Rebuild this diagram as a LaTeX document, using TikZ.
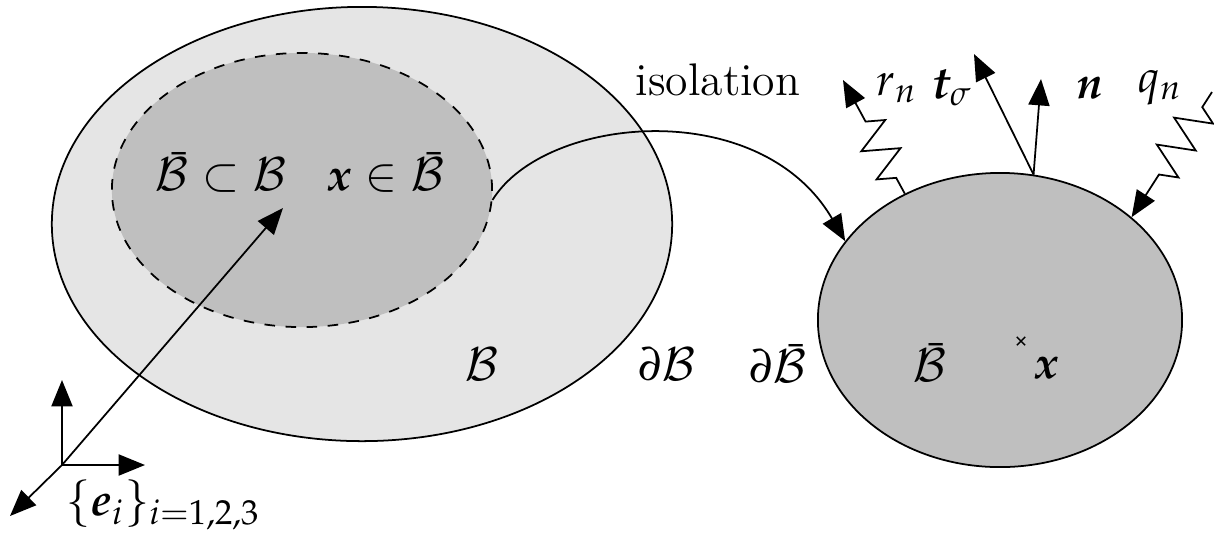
\documentclass[tikz,border=0pt]{standalone}
\usepackage{mathpazo}
\usepackage{bm}
\usetikzlibrary{shapes.geometric, shapes.misc, arrows.meta, decorations.pathmorphing}

\begin{document}
\begin{tikzpicture}[
    x=0.01cm, y=-0.01cm,
    every node/.style={font=\fontsize{13}{15}\selectfont},
    body/.style={ellipse, draw, line width=0.5pt, inner sep=0pt},
    arrow/.style={-{Triangle[length=7.5pt, width=6pt]}, line width=0.5pt},
    flux/.style={arrow, decorate, decoration={zigzag, segment length=0.32cm, amplitude=0.18cm, pre length=0.18cm, post length=0.36cm}}
]
\useasboundingbox (0,0) rectangle (1214,532);

% Body and sub-body
\node[body, fill=black!10, minimum width=6.2cm, minimum height=4.34cm] (body) at (362,224) {};
\node[body, dashed, fill=black!25, minimum width=3.8cm, minimum height=2.74cm] (sub) at (302,190) {};

% Isolated sub-body
\node[body, fill=black!25, minimum width=3.64cm, minimum height=2.94cm] (iso) at (1000,320) {};
\node[cross out, draw, minimum size=0.07cm, inner sep=0pt, line width=0.4pt] (pt) at (1021,341) {};

% Labels
\node (lsub) at (221,172) {$\bar{\mathcal{B}}\subset\mathcal{B}$};
\node (lin) at (386,172) {$\bm{x}\in\bar{\mathcal{B}}$};
\node (lbody) at (482,364) {$\mathcal{B}$};
\node (lbnd) at (667,364) {$\partial\mathcal{B}$};
\node (lsubbnd) at (778,364) {$\partial\bar{\mathcal{B}}$};
\node (liso) at (930,362) {$\bar{\mathcal{B}}$};
\node (lx) at (1047,368) {$\bm{x}$};
\node (lisol) at (718,80) {isolation};
\node (lr) at (897,88) {$r_n$};
\node (lt) at (952,88) {$\bm{t}_\sigma$};
\node (ln) at (1090,88) {$\bm{n}$};
\node (lq) at (1160,88) {$q_n$};
\node (lbasis) at (163,505) {$\{\bm{e}_i\}_{i=1,2,3}$};

% Basis
\coordinate (o) at (62,465);
\coordinate (e1) at (145,465);
\coordinate (e2) at (62,380);
\coordinate (e3) at (10,516);
\coordinate (xtip) at (283,208);
\draw[arrow] (o) -- (e1);
\draw[arrow] (o) -- (e2);
\draw[arrow] (o) -- (e3);
\draw[arrow] (o) -- (xtip);

% Isolation
\draw[arrow] (sub.-3) .. controls (545,115) and (760,95) .. (iso.153);

% Boundary quantities
\coordinate (ttip) at (974,54);
\coordinate (ntip) at (1041,79);
\coordinate (rtip) at (843,80);
\coordinate (qtail) at (1212,92);
\draw[arrow] (iso.77) -- (ttip);
\draw[arrow] (iso.77) -- (ntip);
\draw[flux] (iso.127) -- (rtip);
\draw[flux] (qtail) -- (iso.38);

\end{tikzpicture}
\end{document}
